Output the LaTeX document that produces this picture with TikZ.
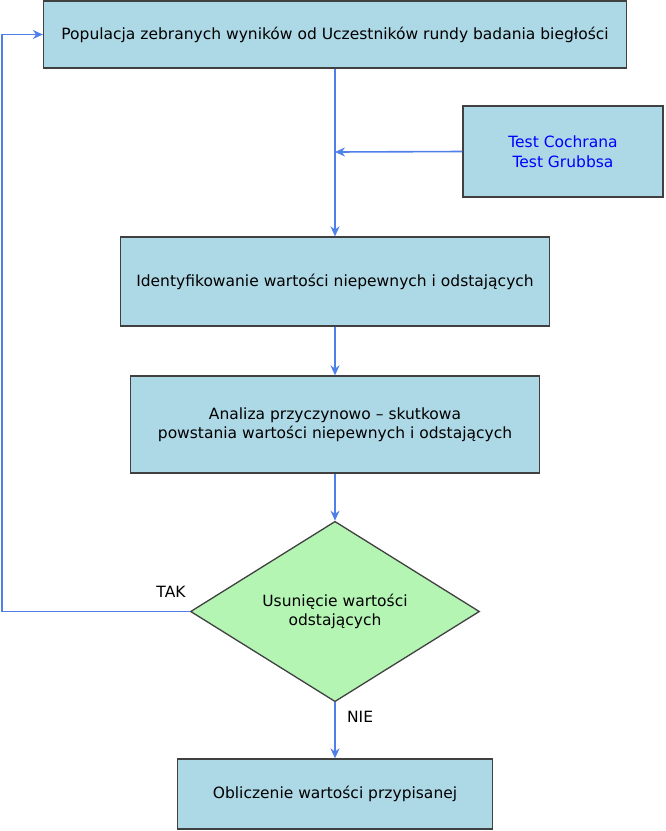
\documentclass[tikz,border=0pt]{standalone}
\usepackage{fontspec}
\setmainfont{DejaVu Sans}
\usetikzlibrary{shapes.geometric,arrows.meta}
\definecolor{boxfill}{HTML}{ADD8E6}
\definecolor{dfill}{HTML}{B4F5B4}
\definecolor{arr}{HTML}{4F7FE8}
\begin{document}
\begin{tikzpicture}[x=1pt,y=-1pt,font=\fontsize{15.5}{19.5}\selectfont,
  box/.style={draw=black!75,fill=boxfill,line width=1.3pt,align=center,inner sep=0pt},
  conn/.style={draw=arr,line width=1.6pt,-{Stealth[length=10pt,width=9pt]}}]
\useasboundingbox (0,0) rectangle (666,831);
\node[box,minimum width=583pt,minimum height=67pt] (b1) at (335,34.5) {Populacja zebranych wyników od Uczestników rundy badania biegłości};
\node[box,minimum width=200pt,minimum height=91pt,text=blue] (t) at (563,151.5) {Test Cochrana\\Test Grubbsa};
\node[box,minimum width=429pt,minimum height=89pt] (b2) at (335,281.5) {Identyfikowanie wartości niepewnych i odstających};
\node[box,minimum width=409pt,minimum height=97pt] (b3) at (335,424.5) {Analiza przyczynowo – skutkowa\\powstania wartości niepewnych i odstających};
\node[diamond,draw=black!75,fill=dfill,line width=1.3pt,align=center,inner sep=0pt,minimum width=289pt,minimum height=173pt] (d) at (335,611.5) {Usunięcie wartości\\odstających};
\node[box,minimum width=315pt,minimum height=70pt] (b4) at (335,794) {Obliczenie wartości przypisanej};
\coordinate (m) at (335,152);
\draw[conn] (b1.south) -- (b2.north);
\draw[conn] (t.west) -- (m);
\draw[conn] (b2.south) -- (b3.north);
\draw[conn] (b3.south) -- (d.north);
\draw[conn] (d.south) -- node[pos=0.25,right=8pt] (nie) {NIE} (b4.north);
\coordinate (c1) at (2,611.5);
\coordinate (c2) at (2,34.5);
\draw[conn] (d.west) -- (c1) -- (c2) -- (b1.west);
\node (tak) at (171,592) {TAK};
\end{tikzpicture}
\end{document}
